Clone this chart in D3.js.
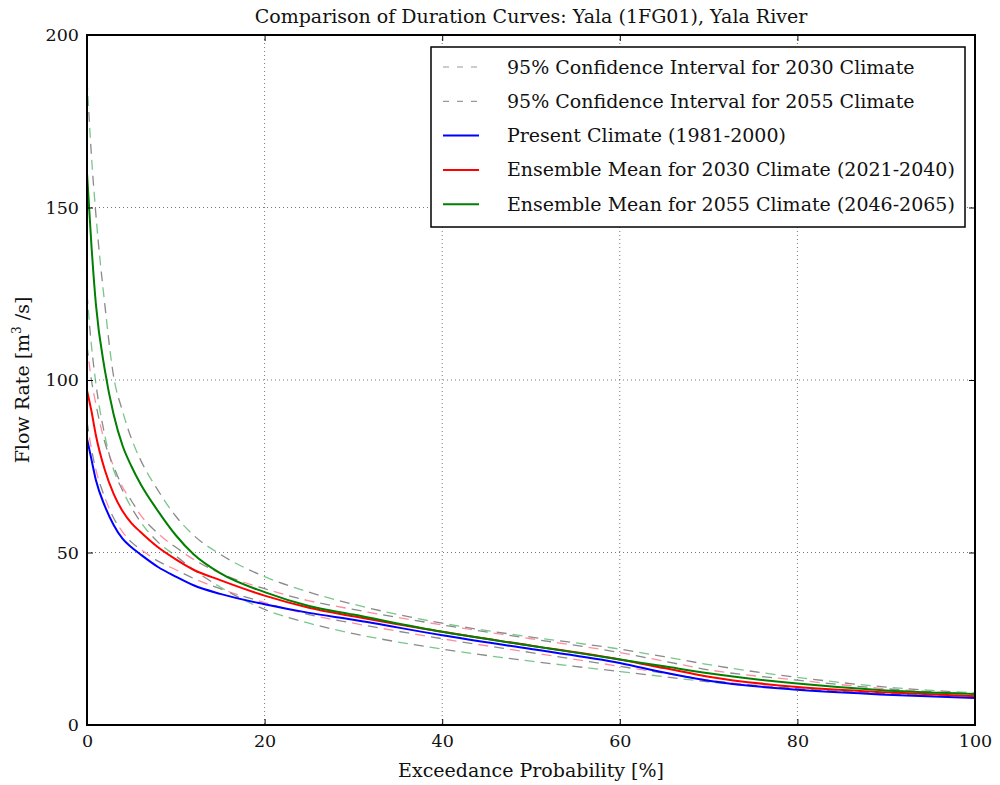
<!DOCTYPE html>
<html><head><meta charset="utf-8">
<script src="https://cdn.jsdelivr.net/npm/d3@7"></script>
<style>body{margin:0;background:#fff}svg{display:block}text{font-family:"DejaVu Serif",serif;fill:#111}</style>
</head><body><svg id="c" width="1000" height="785"></svg>
<script>
const title = "Comparison of Duration Curves: Yala (1FG01), Yala River";
const xTicks = [0, 20, 40, 60, 80, 100];
const yTicks = [0, 50, 100, 150, 200];
const legendLabels = [
  "95% Confidence Interval for 2030 Climate",
  "95% Confidence Interval for 2055 Climate",
  "Present Climate (1981-2000)",
  "Ensemble Mean for 2030 Climate (2021-2040)",
  "Ensemble Mean for 2055 Climate (2046-2065)"
];
const xPct = [0, 0.5, 1, 2, 3, 4, 5, 6, 8, 10, 12, 15, 20, 25, 30, 40, 50, 60, 65, 70, 80, 90, 100];
const present = [83, 77, 71, 63.5, 58, 54, 51.5, 49.5, 45.8, 43, 40.5, 38, 35, 32.5, 30.5, 26, 22, 18, 15.2, 12.8, 10.2, 8.8, 7.8];
const mean2030 = [97, 91, 84, 74, 67, 62, 58.5, 56, 51.5, 48, 45, 42, 37.5, 34, 31.5, 27, 23, 19, 16.5, 14, 11, 9.5, 8.3];
const mean2055 = [160, 139, 122, 103, 90, 81, 75, 70, 62, 55, 49.5, 44, 38.5, 34.5, 32, 27, 23, 19, 17, 15, 12, 10, 9];
const ci2030Upper = [110, 100, 93, 82, 75, 69, 65, 61, 55.5, 51.5, 48, 44, 39.5, 36, 33.5, 29, 25, 21, 18.5, 16, 13, 10.5, 9];
const ci2030Lower = [88, 80, 74, 66, 60, 56, 53, 51, 47.5, 45, 42.5, 39.5, 35.5, 32, 29.5, 25, 21, 17, 15, 13, 10.5, 9, 8];
const ci2055Upper = [187, 165, 148, 122, 101, 91, 83, 77, 68, 60.5, 55, 49.5, 43, 38.5, 35, 29.5, 25.5, 22, 19.8, 17.5, 13.8, 11, 9.3];
const ci2055Lower = [125, 110, 99, 84, 74, 68, 63, 59, 53, 49, 45, 40, 33.5, 29.5, 26.5, 22, 18.5, 15.5, 14, 12.5, 10.5, 9.2, 8.5];

const svg = d3.select("#c");
const L = 87, R = 975, T = 35, B = 725;
const x = d3.scaleLinear().domain([0, 100]).range([L, R]);
const y = d3.scaleLinear().domain([0, 200]).range([B, T]);

// grid
svg.append("g").selectAll("line").data(xTicks.slice(1, -1)).join("line")
  .attr("x1", d => x(d)).attr("x2", d => x(d)).attr("y1", T).attr("y2", B)
  .attr("stroke", "#555").attr("stroke-width", 0.8).attr("stroke-dasharray", "1,3");
svg.append("g").selectAll("line").data(yTicks.slice(1, -1)).join("line")
  .attr("y1", d => y(d)).attr("y2", d => y(d)).attr("x1", L).attr("x2", R)
  .attr("stroke", "#555").attr("stroke-width", 0.8).attr("stroke-dasharray", "1,3");

svg.append("clipPath").attr("id", "pc").append("rect")
  .attr("x", L).attr("y", T).attr("width", R - L).attr("height", B - T);
const plot = svg.append("g").attr("clip-path", "url(#pc)");
const line = d3.line().x((d, i) => x(xPct[i])).y(d => y(d)).curve(d3.curveMonotoneX);

function dashed(vals, col) {
  plot.append("path").datum(vals).attr("d", line).attr("fill", "none")
    .attr("stroke", "#8a8a8a").attr("stroke-width", 1.3).attr("stroke-dasharray", "10,22");
  plot.append("path").datum(vals).attr("d", line).attr("fill", "none")
    .attr("stroke", col).attr("stroke-opacity", 0.6).attr("stroke-width", 1.3)
    .attr("stroke-dasharray", "10,22").attr("stroke-dashoffset", 16);
}
dashed(ci2030Upper, "#ff4060");
dashed(ci2030Lower, "#ff4060");
dashed(ci2055Upper, "#20a040");
dashed(ci2055Lower, "#20a040");

[[present, "#0000ff"], [mean2030, "#ff0000"], [mean2055, "#007f00"]].forEach(([v, c]) => {
  plot.append("path").datum(v).attr("d", line).attr("fill", "none")
    .attr("stroke", c).attr("stroke-width", 2);
});

// axes
const xa = svg.append("g").attr("transform", `translate(0,${B})`)
  .call(d3.axisBottom(x).tickValues(xTicks).tickSize(-6).tickPadding(10));
const xa2 = svg.append("g").attr("transform", `translate(0,${T})`)
  .call(d3.axisTop(x).tickValues(xTicks).tickSize(-6).tickFormat(""));
const ya = svg.append("g").attr("transform", `translate(${L},0)`)
  .call(d3.axisLeft(y).tickValues(yTicks).tickSize(-6).tickPadding(8));
const ya2 = svg.append("g").attr("transform", `translate(${R},0)`)
  .call(d3.axisRight(y).tickValues(yTicks).tickSize(-6).tickFormat(""));
[xa, xa2, ya, ya2].forEach(g => {
  g.select(".domain").remove();
  g.selectAll("line").attr("stroke", "#000").attr("stroke-width", 1);
  g.selectAll("text").attr("font-family", "DejaVu Serif").attr("font-size", 17.5).attr("fill", "#111");
});
svg.append("rect").attr("x", L).attr("y", T).attr("width", R - L).attr("height", B - T)
  .attr("fill", "none").attr("stroke", "#000").attr("stroke-width", 2);

svg.append("text").attr("x", (L + R) / 2).attr("y", 23).attr("text-anchor", "middle")
  .attr("font-size", 19).text(title);
svg.append("text").attr("x", (L + R) / 2).attr("y", 777).attr("text-anchor", "middle")
  .attr("font-size", 19).text("Exceedance Probability [%]");
const yl = svg.append("text").attr("transform", `translate(29,${(T + B) / 2}) rotate(-90)`)
  .attr("text-anchor", "middle").attr("font-size", 19);
yl.append("tspan").text("Flow Rate [m");
yl.append("tspan").attr("font-size", 12).attr("dy", -8).text("3");
yl.append("tspan").attr("dy", 8).text(" /s]");

// legend
const lg = svg.append("g");
lg.append("rect").attr("x", 431).attr("y", 47).attr("width", 534).attr("height", 180)
  .attr("fill", "#fff").attr("stroke", "#000").attr("stroke-width", 1.5);
const legStyles = [
  {c: "#999", dash: "6,8", w: 1.2},
  {c: "#999", dash: "6,8", w: 1.2},
  {c: "#0000ff", dash: null, w: 2},
  {c: "#ff0000", dash: null, w: 2},
  {c: "#007f00", dash: null, w: 2}
];
legendLabels.forEach((t, i) => {
  const yy = 67 + i * 34.3;
  lg.append("line").attr("x1", 443).attr("x2", 479).attr("y1", yy).attr("y2", yy)
    .attr("stroke", legStyles[i].c).attr("stroke-width", legStyles[i].w)
    .attr("stroke-dasharray", legStyles[i].dash);
  lg.append("text").attr("x", 507).attr("y", yy + 6.5).attr("font-size", 19).text(t);
});
</script></body></html>
